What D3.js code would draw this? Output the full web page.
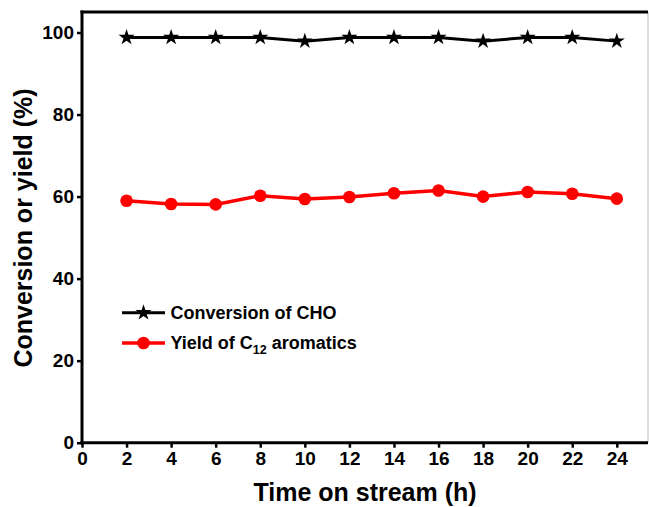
<!DOCTYPE html>
<html><head><meta charset="utf-8">
<script src="https://cdn.jsdelivr.net/npm/d3@7"></script>
<style>body{margin:0;background:#fff}svg{display:block}text{font-family:Arial,"Liberation Sans",sans-serif;font-weight:bold}</style>
</head><body>
<svg id="c" width="649" height="507"></svg>
<script>
const hours = [2,4,6,8,10,12,14,16,18,20,22,24];
const conversion = [98.8,98.8,98.8,98.8,97.9,98.8,98.8,98.8,97.9,98.8,98.8,97.9];
const yieldC12 = [59.0,58.2,58.1,60.2,59.4,59.9,60.8,61.5,60.0,61.1,60.7,59.5];
const xTicks = [0,2,4,6,8,10,12,14,16,18,20,22,24];
const yTicks = [0,20,40,60,80,100];
const seriesNames = ["Conversion of CHO","Yield of C12 aromatics"];

const svg = d3.select("#c");
const L=82, R=648, T=12, B=442.7;
const x = d3.scaleLinear().domain([0,25.4]).range([L,R]);
const y = d3.scaleLinear().domain([0,105]).range([B,T]);

// frame
svg.append("line").attr("x1",R).attr("x2",R).attr("y1",T).attr("y2",B).attr("stroke","#bbb").attr("stroke-width",1);
svg.append("line").attr("x1",L-1.5).attr("x2",R).attr("y1",T).attr("y2",T).attr("stroke","#000").attr("stroke-width",3);

const xa = svg.append("g").attr("transform",`translate(0,${B})`)
  .call(d3.axisBottom(x).tickValues(xTicks).tickSize(5).tickPadding(4).tickSizeOuter(0));
const ya = svg.append("g").attr("transform",`translate(${L},0)`)
  .call(d3.axisLeft(y).tickValues(yTicks).tickSize(5).tickPadding(3).tickSizeOuter(0));
[xa,ya].forEach(a=>{
  a.select(".domain").attr("stroke","#000").attr("stroke-width",3);
  a.selectAll(".tick line").attr("stroke","#000").attr("stroke-width",2.5);
  a.selectAll(".tick text").attr("fill","#000").style("font-size","19px").style("font-weight","bold").style("font-family","Arial, 'Liberation Sans', sans-serif");
});
xa.select(".domain").attr("d",`M${L-1.5},0H${R}`);
ya.select(".domain").attr("d",`M0,${B+1.5}V${T-1.5}`);

// lines
const line = d3.line().x((d,i)=>x(hours[i])).y(d=>y(d));
svg.append("path").datum(conversion).attr("d",line).attr("fill","none").attr("stroke","#000").attr("stroke-width",3);
svg.append("path").datum(yieldC12).attr("d",line).attr("fill","none").attr("stroke","#ff0000").attr("stroke-width",3.5);

const star = d3.symbol().type(d3.symbolStar).size(80);
svg.append("g").selectAll("path").data(conversion).join("path")
  .attr("transform",(d,i)=>`translate(${x(hours[i])},${y(d)})`).attr("d",star).attr("fill","#000");
svg.append("g").selectAll("circle").data(yieldC12).join("circle")
  .attr("cx",(d,i)=>x(hours[i])).attr("cy",d=>y(d)).attr("r",6.3).attr("fill","#ff0000");

// legend
const lg = svg.append("g");
lg.append("line").attr("x1",122).attr("x2",165).attr("y1",312.7).attr("y2",312.7).attr("stroke","#000").attr("stroke-width",3);
lg.append("path").attr("transform","translate(143.5,312.7)").attr("d",star).attr("fill","#000");
lg.append("text").attr("x",170.5).attr("y",319).style("font-size","18px").text(seriesNames[0]);
lg.append("line").attr("x1",122).attr("x2",165).attr("y1",343).attr("y2",343).attr("stroke","#ff0000").attr("stroke-width",3.5);
lg.append("circle").attr("cx",143.5).attr("cy",343).attr("r",6.3).attr("fill","#ff0000");
const t2 = lg.append("text").attr("x",170.5).attr("y",349.3).style("font-size","18px");
t2.append("tspan").text("Yield of C");
t2.append("tspan").attr("dy",5).style("font-size","12.5px").text("12");
t2.append("tspan").attr("dy",-5).text(" aromatics");

// titles
svg.append("text").attr("x",365).attr("y",501).attr("text-anchor","middle").style("font-size","25px").text("Time on stream (h)");
svg.append("text").attr("transform","translate(31.5,228) rotate(-90)").attr("text-anchor","middle").style("font-size","25px").text("Conversion or yield (%)");
</script>
</body></html>
